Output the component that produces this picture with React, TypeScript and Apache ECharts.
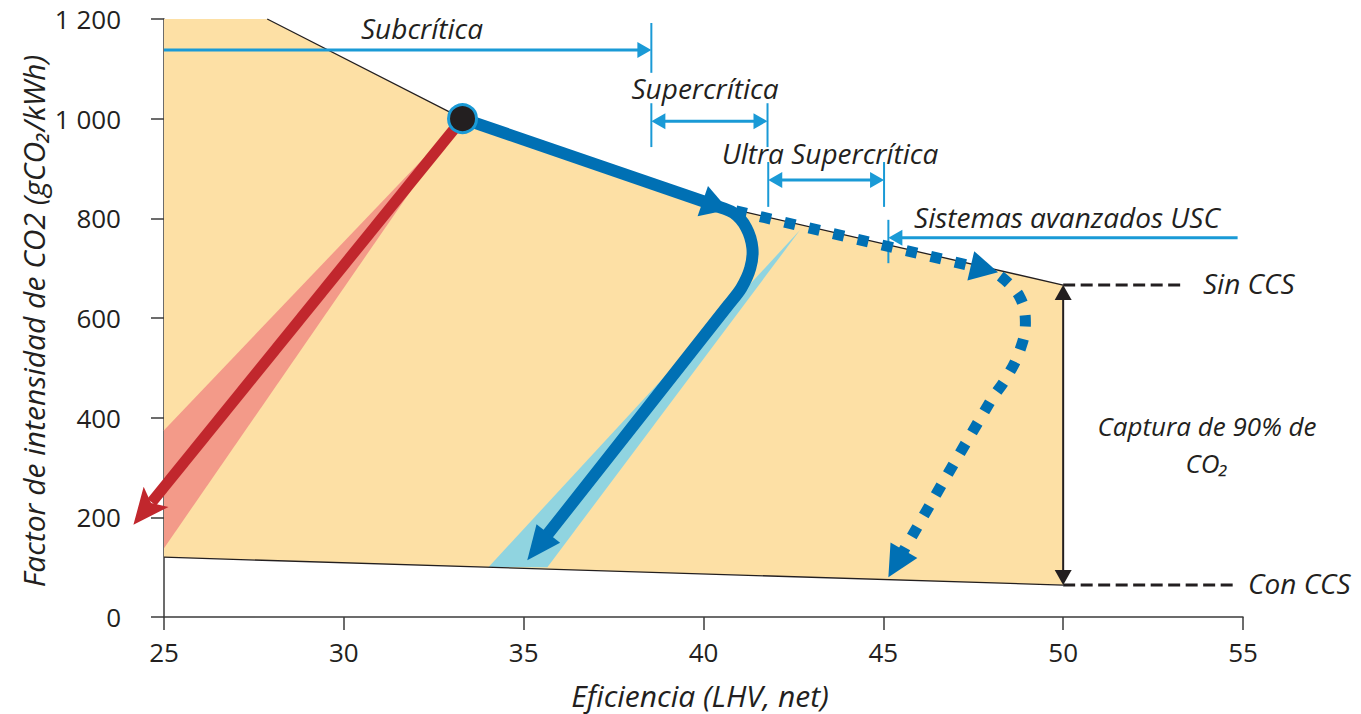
import React, { useEffect, useRef } from 'react';
import * as echarts from 'echarts';

type P = [number, number];

// ---------- data ----------
const xTicks = [25, 30, 35, 40, 45, 50, 55];
const yTicks = [0, 200, 400, 600, 800, 1000, 1200];

// efficiency (%) vs CO2 intensity (gCO2/kWh)
const envelopeUpper: P[] = [[25, 1200], [27.87, 1200], [33.3, 1000], [40.9, 817], [50, 666]];
const envelopeLower: P[] = [[50, 64], [25, 120]];
const redBand: P[] = [[33.2, 995], [25, 375], [25, 138]];
const blueBand: P[] = [[42.69, 777], [34.02, 100], [35.66, 100]];
const startPoint: P = [33.3, 1000];

const redPath: P[] = [[33.3, 1000], [24.15, 185]];
const bluePathA: P[] = [[33.3, 1000], [40.69, 817]];
const bluePathB: P[] = [[40.24, 827], [40.83, 811], [41.19, 781], [41.36, 740], [41.3, 700], [41.05, 660], [40.69, 626], [35.1, 114]];
const dottedPathA: P[] = [[40.9, 815], [48.19, 692]];
const dottedPathB: P[] = [[48.25, 684], [48.78, 644], [48.95, 592], [48.8, 536], [48.42, 480], [47.97, 432], [45.14, 80]];

const regimeNames = ['Subcrítica', 'Supercrítica', 'Ultra Supercrítica', 'Sistemas avanzados USC'];
const regimeSpans: P[] = [[25, 38.55], [38.55, 41.78], [41.8, 45.02], [54.85, 45.14]];
const regimeLevels = [1138, 995, 877, 761];
const regimeHeads = ['end', 'both', 'both', 'end'];
const regimeTicks: [number, number, number][] = [
  [38.55, 1192, 1092], [38.55, 1031, 943], [41.78, 1031, 943],
  [41.8, 913, 823], [45.02, 913, 823], [45.14, 797, 710],
];

const ccsX = 50;
const sinCCS = 666;
const conCCS = 64;
const sinCCSEnd = 53.33;
const conCCSEnd = 54.85;

// ---------- styles ----------
const FONT = "'Open Sans', 'Noto Sans', sans-serif";
const ORANGE = '#FDE0A5';
const RED = '#C1272D';
const RED_LIGHT = '#F39A89';
const BLUE = '#0070B4';
const CYAN = '#90D4E0';
const ANN = '#1A9AD6';
const INK = '#231F20';

// ---------- helpers ----------
function headAt(tip: number[], from: number[], L: number, W: number, N = 0) {
  const dx = tip[0] - from[0], dy = tip[1] - from[1];
  const d = Math.hypot(dx, dy) || 1;
  const ux = dx / d, uy = dy / d, nx = -uy, ny = ux;
  const bx = tip[0] - ux * L, by = tip[1] - uy * L;
  const pts: number[][] = [tip, [bx + nx * W / 2, by + ny * W / 2]];
  if (N) pts.push([tip[0] - ux * (L - N), tip[1] - uy * (L - N)]);
  pts.push([bx - nx * W / 2, by - ny * W / 2]);
  return pts;
}
function toward(a: number[], b: number[], dist: number) {
  const dx = b[0] - a[0], dy = b[1] - a[1];
  const d = Math.hypot(dx, dy) || 1;
  return [a[0] + dx / d * dist, a[1] + dy / d * dist];
}
function arrowElems(api: any, path: P[], color: string, width: number, L: number, W: number,
  opts: { notch?: number; dash?: number[]; smooth?: number } = {}) {
  const pts = path.map((p) => api.coord(p));
  const tip = pts[pts.length - 1];
  const prev = pts[pts.length - 2];
  const end = toward(tip, prev, opts.notch ? L - opts.notch + 1 : L * 0.5);
  const linePts = pts.slice(0, -1).concat([end]);
  return [
    {
      type: 'polyline',
      shape: { points: linePts, smooth: opts.smooth || 0 },
      style: { stroke: color, lineWidth: width, fill: null, lineDash: opts.dash || null, lineCap: 'butt', lineJoin: 'round' },
    },
    { type: 'polygon', shape: { points: headAt(tip, prev, L, W, opts.notch || 0) }, style: { fill: color } },
  ];
}
function layer(name: string, z: number, build: (api: any) => any[]) {
  return {
    type: 'custom', name, coordinateSystem: 'cartesian2d', z, silent: true, clip: false,
    data: [[40, 600]],
    renderItem: (_p: any, api: any) => ({ type: 'group', children: build(api) }),
  };
}
const lineEl = (a: number[], b: number[], stroke: string, lineWidth: number, lineDash: number[] | null = null) => ({
  type: 'line', shape: { x1: a[0], y1: a[1], x2: b[0], y2: b[1] }, style: { stroke, lineWidth, lineDash },
});

const thousands = (v: number) => String(v).replace(/\B(?=(\d{3})+(?!\d))/g, ' ');

const txt = (text: string, x: number, y: number, align = 'center', size = 28, extra: any = {}) => ({
  type: 'text', x, y, z: 50, silent: true,
  style: {
    text, fontFamily: FONT, fontStyle: 'italic', fontSize: size, fill: INK,
    align, textAlign: align, verticalAlign: 'middle', textVerticalAlign: 'middle', ...extra,
  },
});

const series = [
  layer('envelope', 1, (api) => [
    { type: 'polygon', shape: { points: envelopeUpper.concat(envelopeLower).map((p) => api.coord(p)) }, style: { fill: ORANGE } },
  ]),
  layer('bands', 2, (api) => [
    { type: 'polygon', shape: { points: redBand.map((p) => api.coord(p)) }, style: { fill: RED_LIGHT } },
    { type: 'polygon', shape: { points: blueBand.map((p) => api.coord(p)) }, style: { fill: CYAN } },
  ]),
  layer('edges', 3, (api) => [
    { type: 'polyline', shape: { points: envelopeUpper.slice(1).map((p) => api.coord(p)) }, style: { stroke: INK, lineWidth: 1.3, fill: null } },
    { type: 'polyline', shape: { points: envelopeLower.map((p) => api.coord(p)) }, style: { stroke: INK, lineWidth: 1.3, fill: null } },
  ]),
  layer('regimes', 4, (api) => {
    const out: any[] = [];
    regimeSpans.forEach((span, i) => {
      const a = api.coord([span[0], regimeLevels[i]]);
      const b = api.coord([span[1], regimeLevels[i]]);
      const both = regimeHeads[i] === 'both';
      const s = both ? toward(a, b, 7) : a;
      const e = toward(b, a, 7);
      out.push(lineEl(s, e, ANN, 3));
      out.push({ type: 'polygon', shape: { points: headAt(b, a, 14, 16) }, style: { fill: ANN } });
      if (both) out.push({ type: 'polygon', shape: { points: headAt(a, b, 14, 16) }, style: { fill: ANN } });
    });
    regimeTicks.forEach(([x, y1, y2]) => out.push(lineEl(api.coord([x, y1]), api.coord([x, y2]), ANN, 2)));
    return out;
  }),
  layer('red', 5, (api) => arrowElems(api, redPath, RED, 11, 36, 32, { notch: 8 })),
  layer('blue', 6, (api) => [
    ...arrowElems(api, bluePathB, BLUE, 12, 34, 30, { smooth: 0.3 }),
    ...arrowElems(api, bluePathA, BLUE, 12, 27, 32),
  ]),
  layer('dotted', 7, (api) => [
    ...arrowElems(api, dottedPathA, BLUE, 11, 28, 30, { dash: [11, 14] }),
    ...arrowElems(api, dottedPathB, BLUE, 11, 31, 31, { dash: [11, 13], smooth: 0.4 }),
  ]),
  layer('start', 8, (api) => {
    const c = api.coord(startPoint);
    return [{ type: 'circle', shape: { cx: c[0], cy: c[1], r: 14 }, style: { fill: INK, stroke: ANN, lineWidth: 3 } }];
  }),
  layer('ccs', 9, (api) => {
    const top = api.coord([ccsX, sinCCS]);
    const bot = api.coord([ccsX, conCCS]);
    return [
      lineEl(top, api.coord([sinCCSEnd, sinCCS]), INK, 3, [12, 5.5]),
      lineEl(bot, api.coord([conCCSEnd, conCCS]), INK, 3, [12, 5.5]),
      lineEl(toward(top, bot, 10), toward(bot, top, 10), INK, 2),
      { type: 'polygon', shape: { points: headAt(top, bot, 15, 17) }, style: { fill: INK } },
      { type: 'polygon', shape: { points: headAt(bot, top, 15, 17) }, style: { fill: INK } },
    ];
  }),
];

const axisColor = '#3B3B3B';

const option: any = {
  animation: false,
  backgroundColor: '#ffffff',
  grid: { left: 164, top: 19, width: 1079, height: 598, containLabel: false, outerBoundsMode: 'none' },
  xAxis: {
    type: 'value', min: xTicks[0], max: xTicks[xTicks.length - 1], interval: xTicks[1] - xTicks[0],
    axisLine: { show: true, onZero: false, lineStyle: { color: axisColor, width: 1.5 } },
    axisTick: { show: true, length: 13, lineStyle: { color: axisColor, width: 1.5 } },
    axisLabel: { margin: 22, fontSize: 26, color: INK, fontFamily: FONT },
    splitLine: { show: false },
  },
  yAxis: {
    type: 'value', min: yTicks[0], max: yTicks[yTicks.length - 1], interval: yTicks[1] - yTicks[0],
    axisLine: { show: true, onZero: false, lineStyle: { color: axisColor, width: 1.5 } },
    axisTick: { show: true, length: 13, lineStyle: { color: axisColor, width: 1.5 } },
    axisLabel: { margin: 43, fontSize: 26, color: INK, fontFamily: FONT, formatter: thousands },
    splitLine: { show: false },
  },
  series,
  graphic: [
    txt(regimeNames[0], 422, 28),
    txt(regimeNames[1], 705, 88),
    txt(regimeNames[2], 830, 153),
    txt(regimeNames[3], 1067, 217),
    txt('Sin CCS', 1203, 283, 'left'),
    txt('Con CCS', 1248, 583, 'left'),
    txt('Captura de 90% de\nCO₂', 1207, 444, 'center', 26, { lineHeight: 37 }),
    txt('Eficiencia (LHV, net)', 700, 695, 'center', 30),
    { ...txt('Factor de intensidad de CO2 (gCO₂/kWh)', 33, 321, 'center', 30), rotation: Math.PI / 2 },
  ],
};

export default function App() {
  const ref = useRef<HTMLDivElement>(null);
  useEffect(() => {
    const chart = echarts.init(ref.current!, null, { renderer: 'svg' });
    chart.setOption(option);
    return () => chart.dispose();
  }, []);
  return (
    <div
      ref={ref}
      style={{ position: 'fixed', left: 0, top: 0, width: 1361, height: 714, background: '#ffffff' }}
    />
  );
}
